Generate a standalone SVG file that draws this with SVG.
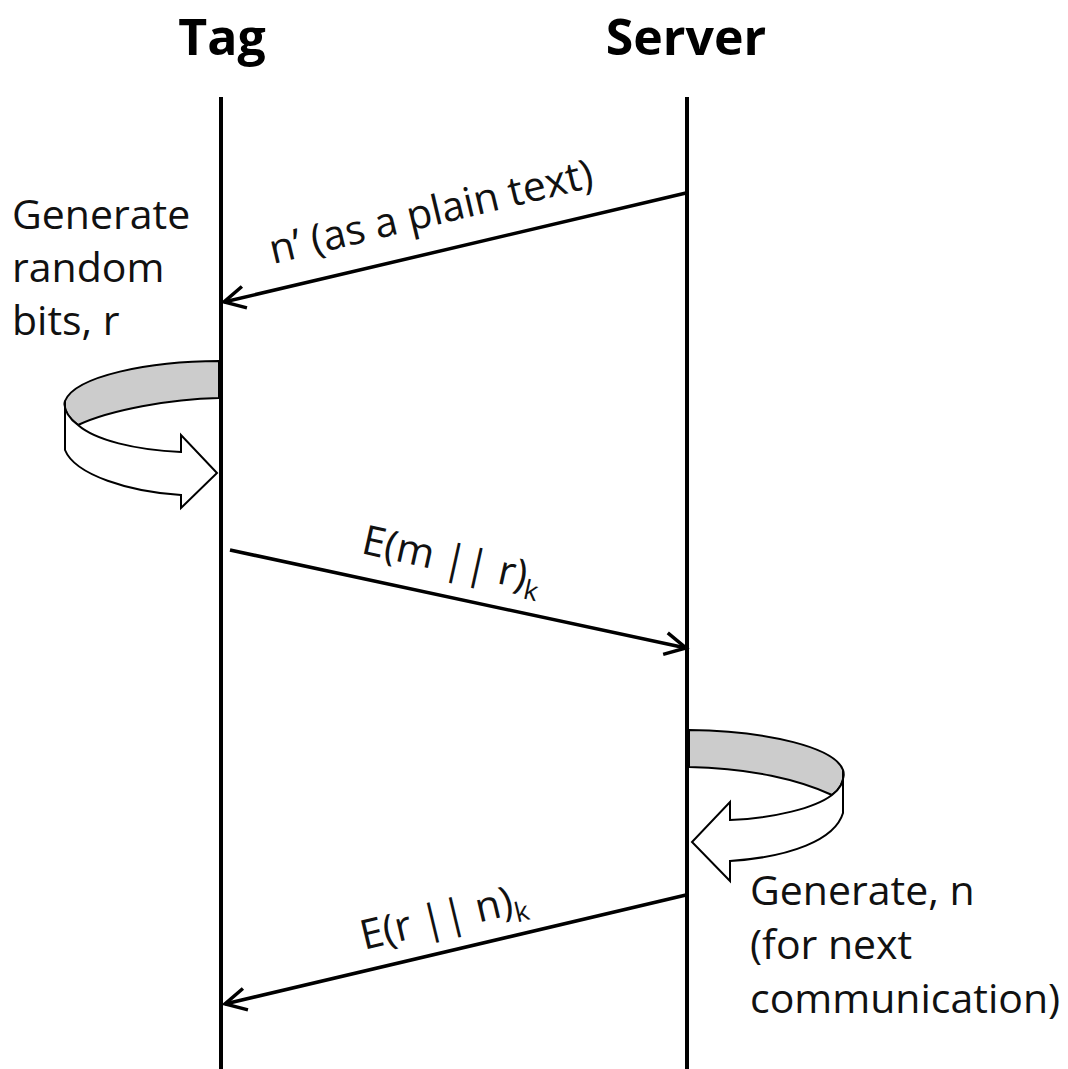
<svg xmlns="http://www.w3.org/2000/svg" width="1068" height="1069" viewBox="0 0 1068 1069">
  <style>
    .title { font-family: "Open Sans", "Liberation Sans", sans-serif; font-weight: bold; font-size: 50px; fill: #000; }
    .note { font-family: "Open Sans", "Liberation Sans", sans-serif; font-size: 41px; fill: #111; }
    .lifeline { stroke: #000; stroke-width: 4; fill: none; }
    .msg { stroke: #000; stroke-width: 3.5; fill: none; marker-end: url(#open); }
    .band { fill: #cccccc; stroke: #000; stroke-width: 2; stroke-linejoin: round; }
    .turn { fill: #fff; stroke: #000; stroke-width: 2; stroke-linejoin: miter; }
  </style>
  <defs>
    <marker id="open" viewBox="-26 -15 30 30" markerWidth="30" markerHeight="30" markerUnits="userSpaceOnUse" refX="0" refY="0" orient="auto">
      <path d="M-21,-11 L0,0 L-21,11" fill="none" stroke="#000" stroke-width="3.5" stroke-linejoin="miter"/>
    </marker>
  </defs>
  <rect width="1068" height="1069" fill="#fff"/>

  <!-- participants -->
  <g id="tag">
    <text class="title" x="222" y="55" text-anchor="middle">Tag</text>
    <line class="lifeline" x1="221" y1="97" x2="221" y2="1069"/>
  </g>
  <g id="server">
    <text class="title" x="686" y="55" text-anchor="middle">Server</text>
    <line class="lifeline" x1="687" y1="97" x2="687" y2="1069"/>
  </g>

  <!-- tag self-step: generate random bits -->
  <g id="tag-generate">
    <path class="band" d="M219,361 C150,361 75,376 65,401 C63,410 70,419 78,425 C110,410 170,399 219,398 Z"/>
    <path class="turn" d="M65,401 L65,450 C75,475 130,492 181,495 L181,508 L217,473 L181,435 L181,452 C135,450 95,440 78,425 C70,419 63,410 65,401 Z"/>
    <text class="note" x="12" y="229">Generate</text>
    <text class="note" x="12" y="282">random</text>
    <text class="note" x="12" y="335">bits, r</text>
  </g>

  <!-- server self-step: generate n -->
  <g id="server-generate">
    <path class="band" d="M689,730 C770,731 835,748 843,770 C845,780 840,789 832,795 C800,780 750,768 689,767 Z"/>
    <path class="turn" d="M843,770 L843,813 C835,840 790,857 730,861 L730,881 L692,842 L730,802 L730,820 C775,818 815,808 832,795 C840,789 845,780 843,770 Z"/>
    <text class="note" x="750" y="905">Generate, n</text>
    <text class="note" x="750" y="959">(for next</text>
    <text class="note" x="750" y="1013">communication)</text>
  </g>

  <!-- messages -->
  <g id="connectors">
    <line class="msg" x1="686" y1="193" x2="224" y2="302"/>
    <line class="msg" x1="230" y1="550" x2="686" y2="648"/>
    <line class="msg" x1="686" y1="895" x2="225" y2="1004"/>
  </g>
  <g id="labels">
    <text class="note" transform="translate(273,264) rotate(-13.5)">n’ (as a plain text)</text>
    <text class="note" transform="translate(360,553) rotate(12.5)">E(m || r)<tspan font-size="27" dy="9">k</tspan></text>
    <text class="note" transform="translate(364,950) rotate(-13.5)">E(r || n)<tspan font-size="27" dy="9">k</tspan></text>
  </g>
</svg>
